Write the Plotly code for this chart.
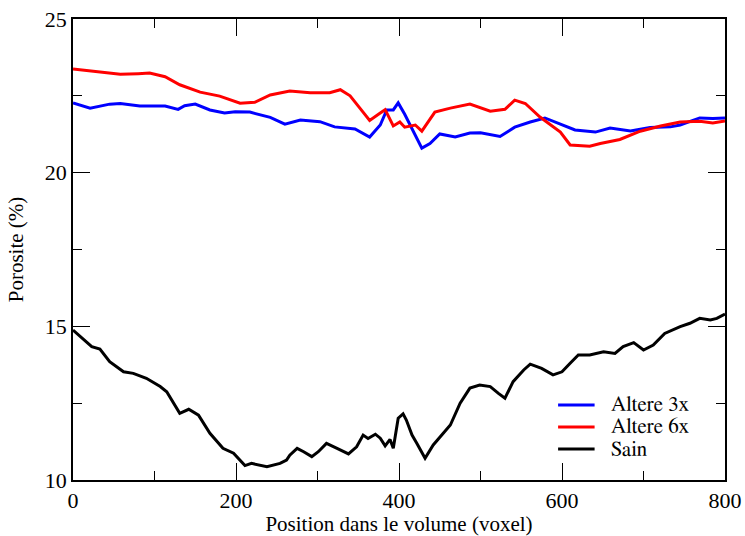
import plotly.graph_objects as go

# Altere 6x (red)
x6 = [0, 15, 33, 58, 80, 94, 113, 131, 156, 180, 205, 223, 242, 266, 291, 315, 328, 340, 352, 364,
      377, 383, 393, 401, 407, 420, 428, 444, 463, 487, 512, 530, 542, 555, 573, 598, 610, 634,
      647, 671, 696, 721, 745, 769, 785, 800]
y6 = [23.37, 23.33, 23.27, 23.20, 23.22, 23.24, 23.12, 22.86, 22.62, 22.49, 22.26, 22.29, 22.53,
      22.66, 22.60, 22.60, 22.70, 22.50, 22.10, 21.70, 21.94, 22.05, 21.52, 21.65, 21.48, 21.55,
      21.35, 21.97, 22.10, 22.23, 22.00, 22.06, 22.36, 22.25, 21.81, 21.32, 20.90, 20.86, 20.95,
      21.08, 21.35, 21.52, 21.65, 21.67, 21.62, 21.68]

# Altere 3x (blue)
x3 = [0, 21, 45, 58, 82, 113, 129, 137, 150, 168, 186, 199, 217, 242, 260, 279, 303, 321, 346,
      364, 377, 385, 393, 399, 407, 420, 428, 438, 450, 469, 487, 500, 512, 524, 542, 561, 579,
      598, 616, 641, 659, 684, 708, 733, 745, 769, 785, 800]
y3 = [22.27, 22.10, 22.23, 22.25, 22.17, 22.17, 22.06, 22.18, 22.23, 22.04, 21.94, 21.98, 21.97,
      21.80, 21.58, 21.71, 21.66, 21.49, 21.42, 21.16, 21.55, 22.04, 22.04, 22.27, 21.90, 21.23,
      20.80, 20.95, 21.26, 21.16, 21.29, 21.30, 21.25, 21.18, 21.48, 21.65, 21.78, 21.58, 21.39,
      21.32, 21.45, 21.36, 21.47, 21.49, 21.55, 21.78, 21.76, 21.78]

# Sain (black)
xs = [0, 13, 23, 33, 45, 62, 74, 90, 107, 115, 131, 142, 154, 168, 184, 197, 211, 219, 238, 254,
      262, 266, 275, 283, 293, 301, 311, 324, 338, 348, 356, 362, 371, 377, 383, 389, 393, 399,
      405, 409, 416, 422, 432, 442, 454, 463, 475, 487, 499, 512, 522, 530, 540, 553, 561, 575,
      589, 600, 610, 620, 634, 651, 665, 675, 688, 700, 712, 726, 745, 757, 769, 782, 790, 800]
ys = [14.88, 14.56, 14.34, 14.26, 13.85, 13.52, 13.47, 13.31, 13.04, 12.87, 12.17, 12.30, 12.11,
      11.52, 11.03, 10.87, 10.47, 10.54, 10.43, 10.54, 10.65, 10.81, 11.03, 10.92, 10.76, 10.92,
      11.19, 11.03, 10.85, 11.08, 11.46, 11.35, 11.49, 11.36, 11.11, 11.32, 11.03, 12.01, 12.15,
      11.95, 11.46, 11.19, 10.71, 11.14, 11.52, 11.79, 12.50, 12.99, 13.09, 13.04, 12.82, 12.66,
      13.20, 13.58, 13.77, 13.63, 13.42, 13.52, 13.80, 14.07, 14.07, 14.17, 14.12, 14.34, 14.47,
      14.23, 14.39, 14.77, 14.99, 15.10, 15.26, 15.21, 15.26, 15.40]

series_names = ["Altere 3x", "Altere 6x", "Sain"]
series_x = [x3, x6, xs]
series_y = [y3, y6, ys]
series_colors = ["#0000ff", "#ff0000", "#000000"]

TICKF = "'Liberation Serif'"
BASEF = "Noto Serif"
TITLEF = "Nimbus Roman"
LEGF = "FreeSerif"

fig = go.Figure()
for name, xv, yv, col in zip(series_names, series_x, series_y, series_colors):
    fig.add_trace(go.Scatter(x=xv, y=yv, mode="lines", name=name,
                             line=dict(color=col, width=3), showlegend=False))

# Legend drawn compactly (key line + label) in paper coordinates
leg_rows = [0.1627, 0.1150, 0.0672]
for name, col, yr in zip(series_names, series_colors, leg_rows):
    fig.add_shape(type="line", xref="paper", yref="paper",
                  x0=0.744, x1=0.800, y0=yr, y1=yr,
                  line=dict(color=col, width=3))
    fig.add_annotation(xref="paper", yref="paper", x=0.822, y=yr,
                       xanchor="left", yanchor="middle", showarrow=False,
                       text=name, font=dict(family=LEGF, size=21, color="black"))

axis_common = dict(
    showgrid=False, zeroline=False, showline=True, linecolor="black", linewidth=1.5,
    mirror="ticks", ticks="inside", ticklen=17, tickwidth=1.2, tickcolor="black",
    tickfont=dict(family=TICKF, size=22, color="black"),
    minor=dict(ticks="inside", ticklen=9, tickwidth=1.2, tickcolor="black"),
    automargin=False, ticklabeloverflow="allow",
)

fig.update_xaxes(range=[0, 800], dtick=200, tick0=0,
                 title=dict(text="Position dans le volume (voxel)",
                            font=dict(family=TITLEF, size=21, color="black")),
                 **axis_common)
fig.update_xaxes(minor=dict(dtick=100))
fig.update_yaxes(range=[10, 25], dtick=5, tick0=0,
                 title=dict(text="Porosite (%)",
                            font=dict(family=TITLEF, size=21, color="black")),
                 **axis_common)
fig.update_yaxes(minor=dict(dtick=2.5))

fig.update_layout(
    width=745, height=536,
    margin=dict(l=73, r=20, t=19, b=56),
    plot_bgcolor="white", paper_bgcolor="white",
    font=dict(family=BASEF, size=21, color="black"),
    showlegend=False,
)

fig.write_html("out.html", config={"displayModeBar": False},
               post_script="document.body.style.margin='0';")
